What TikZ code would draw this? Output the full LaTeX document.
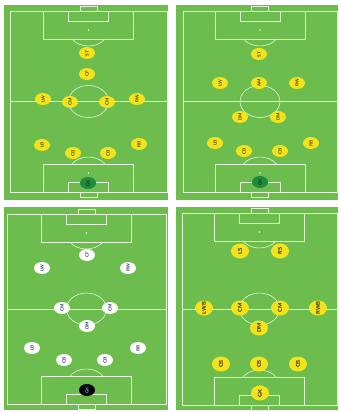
\documentclass[tikz,border=0pt]{standalone}
\usepackage{tikz}
\usetikzlibrary{shapes.geometric}
\definecolor{GrassGreen}{HTML}{6CBD4E}
\definecolor{LineWhite}{HTML}{E6F4DC}
\definecolor{ShirtYellow}{HTML}{F3E31C}
\definecolor{KeeperGreen}{HTML}{1E8C3E}
\definecolor{TextOlive}{HTML}{45421A}
\definecolor{TextNavy}{HTML}{22305A}
\definecolor{KeeperCyan}{HTML}{3FC8E0}

\tikzset{
  pitchline/.style={color=LineWhite, line width=0.6pt},
  player/.style={ellipse, rotate=90, inner ysep=0pt, inner xsep=-3pt, minimum width=12pt, minimum height=16pt, font=\fontsize{4.5}{4.5}\selectfont\sffamily\bfseries},
  yplayer/.style={player, fill=ShirtYellow, text=TextOlive},
  wplayer/.style={player, fill=white, text=TextNavy},
  gkgreen/.style={player, fill=KeeperGreen, text=TextOlive!60!black},
  gkblack/.style={player, fill=black, text=KeeperCyan},
  bigplayer/.style={yplayer, inner xsep=-4pt, minimum width=15pt, minimum height=18pt, text=black!85, font=\fontsize{5.5}{5.5}\selectfont\sffamily\bfseries}
}

\newcommand{\pitch}[4]{%
  \begin{scope}[shift={(#1,#2)}, pitchline]
    \draw (0,0) rectangle (#3,#4);
    \draw (0,#4/2) -- (#3,#4/2);
    \draw (#3/2,#4/2) ellipse [x radius=20, y radius=16];
    \draw (#3/2-45,0) rectangle (#3/2+45,28);
    \draw (#3/2-20,0) rectangle (#3/2+20,10);
    \draw (#3/2-8.5,-5) rectangle (#3/2+8.5,0);
    \fill (#3/2,19) circle [radius=0.8];
    \draw (#3/2+16.5,28) arc [start angle=34.2, end angle=145.8, x radius=20, y radius=16];
    \draw (#3/2-45,#4-28) rectangle (#3/2+45,#4);
    \draw (#3/2-20,#4-10) rectangle (#3/2+20,#4);
    \draw (#3/2-8.5,#4) rectangle (#3/2+8.5,#4+5);
    \fill (#3/2,#4-19) circle [radius=0.8];
    \draw (#3/2+16.5,#4-28) arc [start angle=-34.2, end angle=-145.8, x radius=20, y radius=16];
  \end{scope}}

\begin{document}
\begin{tikzpicture}[x=1pt, y=-1pt]
  \useasboundingbox[fill=white] (0,0) rectangle (339,412);

  \fill[GrassGreen] (4,5) rectangle (168,200);
  \fill[GrassGreen] (176,5) rectangle (338,200);
  \fill[GrassGreen] (4,207) rectangle (168,410);
  \fill[GrassGreen] (176,207) rectangle (338,410);

  \pitch{10}{11}{157}{181}
  \pitch{183}{11}{154}{181}
  \pitch{7}{214}{159}{190}
  \pitch{182}{213}{155}{192}

  \node[yplayer] (p1st) at (87,53) {ST};
  \node[yplayer] (p1cf) at (87,74) {CF};
  \node[yplayer] (p1lw) at (43,99) {LW};
  \node[yplayer] (p1cml) at (70,102) {CM};
  \node[yplayer] (p1cmr) at (107,102) {CM};
  \node[yplayer] (p1rw) at (137,99) {RW};
  \node[yplayer] (p1lb) at (42,145) {LB};
  \node[yplayer] (p1cbl) at (73,153) {CB};
  \node[yplayer] (p1cbr) at (108,153) {CB};
  \node[yplayer] (p1rb) at (139,144) {RB};
  \node[gkgreen] (p1gk) at (88,183) {GK};

  \node[yplayer] (p2st) at (259,54) {ST};
  \node[yplayer] (p2lw) at (220,83) {LW};
  \node[yplayer] (p2am) at (259,83) {AM};
  \node[yplayer] (p2rw) at (297,83) {RW};
  \node[yplayer] (p2dml) at (240,117) {DM};
  \node[yplayer] (p2dmr) at (278,117) {DM};
  \node[yplayer] (p2lb) at (215,143) {LB};
  \node[yplayer] (p2cbl) at (244,151) {CB};
  \node[yplayer] (p2cbr) at (280,151) {CB};
  \node[yplayer] (p2rb) at (311,143) {RB};
  \node[gkgreen] (p2gk) at (260,182) {GK};

  \node[wplayer] (p3cf) at (87,255) {CF};
  \node[wplayer] (p3lw) at (42,268) {LW};
  \node[wplayer] (p3rw) at (128,268) {RW};
  \node[wplayer] (p3cml) at (62,308) {CM};
  \node[wplayer] (p3cmr) at (110,308) {CM};
  \node[wplayer] (p3dm) at (87,326) {DM};
  \node[wplayer] (p3lb) at (32,348) {LB};
  \node[wplayer] (p3cbl) at (64,360) {CB};
  \node[wplayer] (p3cbr) at (105,360) {CB};
  \node[wplayer] (p3rb) at (138,348) {RB};
  \node[gkblack] (p3gk) at (87,390) {GK};

  \node[bigplayer] (p4ls) at (240,251) {LS};
  \node[bigplayer] (p4rs) at (280,251) {RS};
  \node[bigplayer] (p4lwb) at (204,308) {LWB};
  \node[bigplayer] (p4cml) at (240,308) {CM};
  \node[bigplayer] (p4cmr) at (280,308) {CM};
  \node[bigplayer] (p4rwb) at (318,308) {RWB};
  \node[bigplayer] (p4dm) at (259,328) {DM};
  \node[bigplayer] (p4cbl) at (221,364) {CB};
  \node[bigplayer] (p4cbc) at (259,364) {CB};
  \node[bigplayer] (p4cbr) at (298,364) {CB};
  \node[bigplayer] (p4gk) at (260,393) {GK};
\end{tikzpicture}
\end{document}
